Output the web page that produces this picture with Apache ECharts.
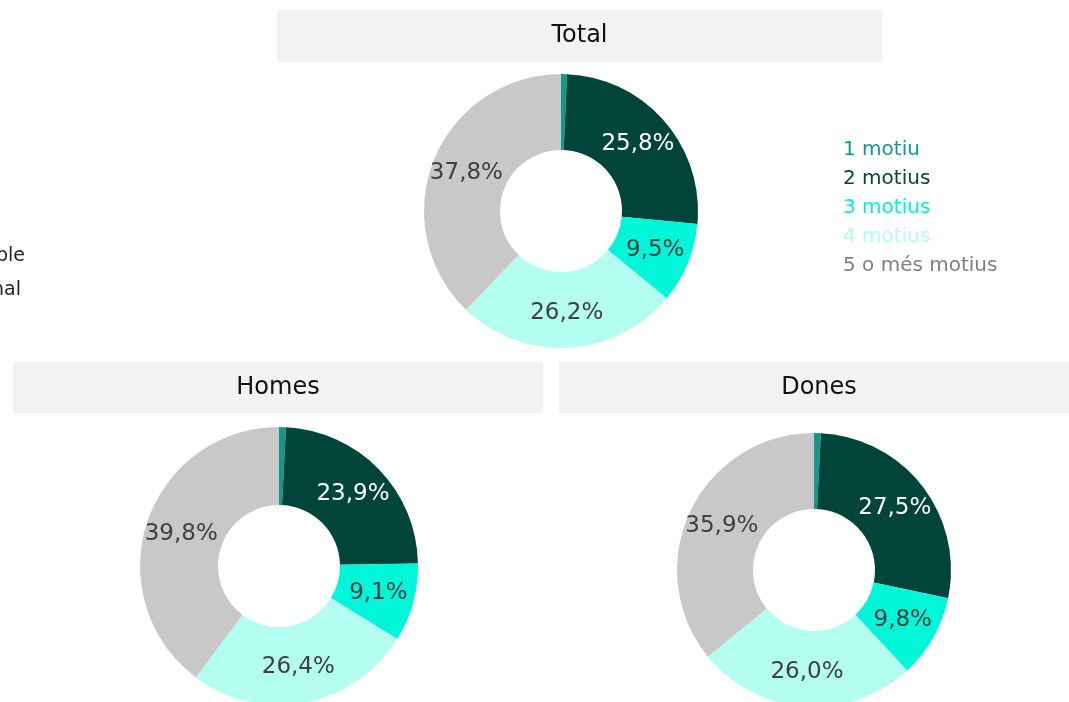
<!DOCTYPE html>
<html>
<head>
<meta charset="utf-8">
<title>Motius</title>
<script src="https://cdn.jsdelivr.net/npm/echarts@6/dist/echarts.min.js"></script>
<style>
  html, body { margin: 0; padding: 0; background: #fff; }
  #main { width: 1069px; height: 702px; }
</style>
</head>
<body>
<div id="main"></div>
<script>
// dades
var categories = ['1 motiu', '2 motius', '3 motius', '4 motius', '5 o més motius'];
var total = [0.7, 25.8, 9.5, 26.2, 37.8];
var homes = [0.8, 23.9, 9.1, 26.4, 39.8];
var dones = [0.8, 27.5, 9.8, 26.0, 35.9];
var panels = ['Total', 'Homes', 'Dones'];

var colors = ['#12988a', '#00443a', '#00f5d9', '#b3fdf1', '#c8c8c8'];
var legendColors = ['#12988a', '#00443a', '#00f0d4', '#b3fdf1', '#7f7f7f'];
var labelColors = ['#404040', '#ffffff', '#404040', '#404040', '#404040'];
var font = '"DejaVu Sans", sans-serif';

var myChart = echarts.init(document.getElementById('main'));

function makeData(values) {
	return values.map(function (v, i) {
		return {
			name: categories[i],
			value: v,
			label: { show: i > 0, color: labelColors[i] }
		};
	});
}

function pieSeries(name, values, center, r) {
	return {
		name: name,
		type: 'pie',
		center: center,
		radius: [61, r],
		startAngle: 90,
		clockwise: true,
		avoidLabelOverlap: false,
		animation: false,
		label: {
			position: 'inside',
			fontFamily: font,
			fontSize: 23,
			formatter: function (p) {
				return p.value.toFixed(1).replace('.', ',') + '%';
			}
		},
		labelLine: { show: false },
		emphasis: { scale: false },
		data: makeData(values)
	};
}

function header(x, y, w, h, text) {
	return [{
		type: 'rect',
		shape: { x: x, y: y, width: w, height: h },
		style: { fill: '#f2f2f2' },
		silent: true
	}, {
		type: 'text',
		x: x + w / 2,
		y: y + h / 2,
		style: {
			text: text,
			fill: '#111',
			font: '24px ' + font,
			textAlign: 'center',
			textVerticalAlign: 'middle'
		},
		silent: true
	}];
}

var graphics = []
	.concat(header(277, 10, 605, 52, panels[0]))
	.concat(header(13, 362, 530, 51, panels[1]))
	.concat(header(559, 362, 520, 51, panels[2]))
	.concat([{
		type: 'text', x: 25, y: 256,
		style: { text: 'Resposta múltiple', fill: '#222', font: '19px ' + font, textAlign: 'right', textVerticalAlign: 'middle' }
	}, {
		type: 'text', x: 21, y: 290,
		style: { text: 'Percentatge sobre el total nacional', fill: '#222', font: '19px ' + font, textAlign: 'right', textVerticalAlign: 'middle' }
	}]);

var option = {
	color: colors,
	legend: {
		orient: 'vertical',
		left: 833,
		top: 130,
		itemWidth: 0,
		itemHeight: 0,
		itemGap: 0,
		icon: 'rect',
		selectedMode: false,
		textStyle: { fontFamily: font, fontSize: 20, lineHeight: 29 },
		data: categories.map(function (c, i) {
			return { name: c, textStyle: { color: legendColors[i] } };
		})
	},
	graphic: graphics,
	series: [
		pieSeries(panels[0], total, [561, 211], 137),
		pieSeries(panels[1], homes, [279, 566], 139),
		pieSeries(panels[2], dones, [814, 570], 137)
	]
};

myChart.setOption(option);
</script>
</body>
</html>
